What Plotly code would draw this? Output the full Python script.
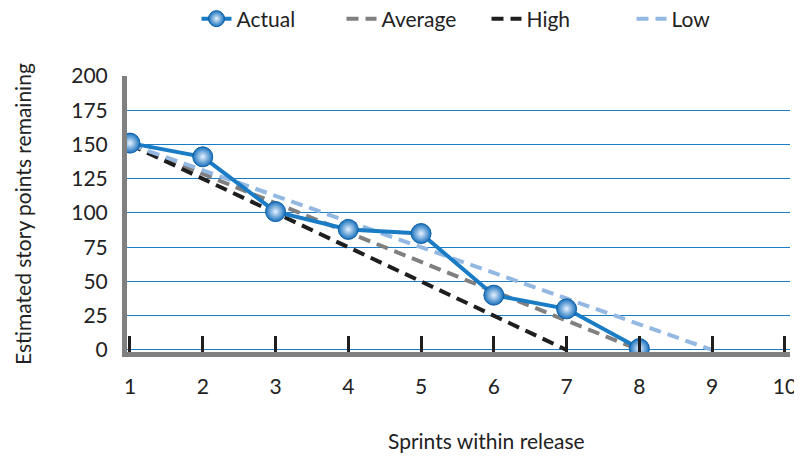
import plotly.graph_objects as go

# data
sprints = [1, 2, 3, 4, 5, 6, 7, 8]
actual = [151, 141, 101, 88, 85, 40, 30, 1]
average_x = [1, 8]
average_y = [150, 0]
high_x = [1, 7]
high_y = [150, 0]
low_x = [1, 9]
low_y = [150, 0]
x_ticks = [1, 2, 3, 4, 5, 6, 7, 8, 9, 10]
y_ticks = [0, 25, 50, 75, 100, 125, 150, 175, 200]

FONT = "Lato"
BLUE = "#1b7cc6"
DASH = "12px,7px"

fig = go.Figure()
# dashed guides first so the actual line sits on top
fig.add_trace(go.Scatter(
    x=average_x, y=average_y, name="Average", mode="lines", legendrank=2,
    line=dict(color="#808080", width=4, dash=DASH),
))
fig.add_trace(go.Scatter(
    x=high_x, y=high_y, name="High", mode="lines", legendrank=3,
    line=dict(color="#1e1e1e", width=4, dash=DASH),
))
fig.add_trace(go.Scatter(
    x=low_x, y=low_y, name="Low", mode="lines", legendrank=4,
    line=dict(color="#93b8e2", width=4, dash=DASH),
))
fig.add_trace(go.Scatter(
    x=sprints, y=actual, name="Actual", mode="lines+markers", legendrank=1,
    line=dict(color=BLUE, width=4),
    marker=dict(size=20, color="#1570bd",
                gradient=dict(type="radial", color="#e8f2ff"),
                line=dict(color="#0f5ea3", width=1)),
))

# page body adds an 8px margin, so the figure is 8px smaller than the window
fig.update_layout(
    width=794, height=451,
    margin=dict(l=119, r=12, t=68, b=107, autoexpand=False),
    plot_bgcolor="white", paper_bgcolor="white",
    font=dict(family=FONT, size=20, color="#222222"),
    showlegend=True,
    legend=dict(orientation="h", x=0.5 + 28 / 663, xanchor="center",
                y=1 + (68 - 11) / 276, yanchor="middle",
                font=dict(size=21), entrywidth=100),
    annotations=[
        dict(text="Sprints within release", xref="paper", yref="paper",
             x=(486 - 127) / 663, y=-(440 - 352) / 276, xanchor="center", yanchor="middle",
             showarrow=False, font=dict(size=21)),
        dict(text="Estimated story points remaining", xref="paper", yref="paper",
             x=-(127 - 22) / 663, y=0.5, xanchor="center", yanchor="middle",
             textangle=-90, showarrow=False, font=dict(size=21)),
    ],
)

fig.update_xaxes(
    range=[0.959, 10.07], tickvals=x_ticks,
    showgrid=False, zeroline=False,
    showline=True, linecolor="#808080", linewidth=5,
    ticks="inside", ticklen=16, tickwidth=3, tickcolor="#1e1e1e",
    ticklabelstandoff=12, tickfont=dict(size=21),
)
fig.update_yaxes(
    range=[-1.5, 200], tickvals=y_ticks,
    showgrid=True, gridcolor=BLUE, gridwidth=1.3, zeroline=False,
    showline=True, linecolor="#808080", linewidth=5,
    ticks="", ticklabelstandoff=10, tickfont=dict(size=21),
)

fig.write_html("out.html")
